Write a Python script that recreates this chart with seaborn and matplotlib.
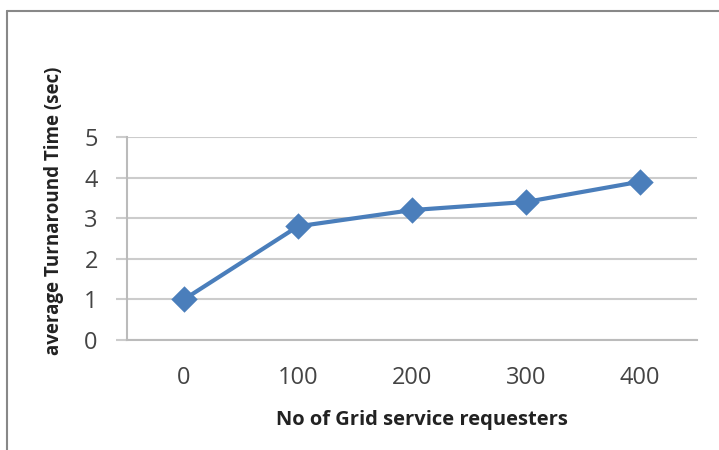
import numpy as np
import pandas as pd
import matplotlib
matplotlib.use("Agg")
import matplotlib.pyplot as plt
import seaborn as sns
from matplotlib.lines import Line2D

requesters = ["0", "100", "200", "300", "400"]
turnaround = [1.0, 2.8, 3.2, 3.4, 3.9]

df = pd.DataFrame({"requesters": requesters, "turnaround": turnaround})

sns.set_style("white")
plt.rcParams['font.family'] = ['Open Sans', 'DejaVu Sans']

fig = plt.figure(figsize=(7.19, 4.5), dpi=100)
ax = fig.add_axes([127/719, 1 - 340/450, 570/719, 203/450])

sns.pointplot(data=df, x="requesters", y="turnaround", color="#4a7ebb",
              markers="D", markersize=11, linewidth=3, ax=ax)

ax.set_ylim(0, 5)
ax.set_xlim(-0.5, 4.5)
ax.set_yticks(range(6))
ax.yaxis.grid(True, color="#cccccc", linewidth=1.5)
ax.set_axisbelow(True)
for s in ["top", "right"]:
    ax.spines[s].set_visible(False)
ax.spines["left"].set_color("#bbbbbb")
ax.spines["bottom"].set_color("#bbbbbb")
ax.spines["left"].set_linewidth(1.5)
ax.spines["bottom"].set_linewidth(1.5)
ax.tick_params(axis="y", length=8, width=1.5, color="#cccccc", labelsize=17,
               labelcolor="#444444", pad=13, left=True)
ax.tick_params(axis="x", length=0, labelsize=17, labelcolor="#444444", pad=19)

ax.set_xlabel("")
ax.set_ylabel("")
fig.text(422/719, 1 - 420/450, "No of Grid service requesters",
         ha="center", va="center", fontsize=14.5, fontweight="bold", color="#222222")
fig.text(54/719, 1 - 211/450, "average Turnaround Time (sec)", rotation=90,
         ha="center", va="center", fontsize=13.5, fontweight="bold", color="#222222")

# outer frame (top and left edges visible)
fig.add_artist(Line2D([7/719, 1.0], [1 - 11/450, 1 - 11/450], color="#888888", linewidth=1.5))
fig.add_artist(Line2D([7/719, 7/719], [0, 1 - 11/450], color="#888888", linewidth=1.5))

fig.savefig("out.png", dpi=100)
